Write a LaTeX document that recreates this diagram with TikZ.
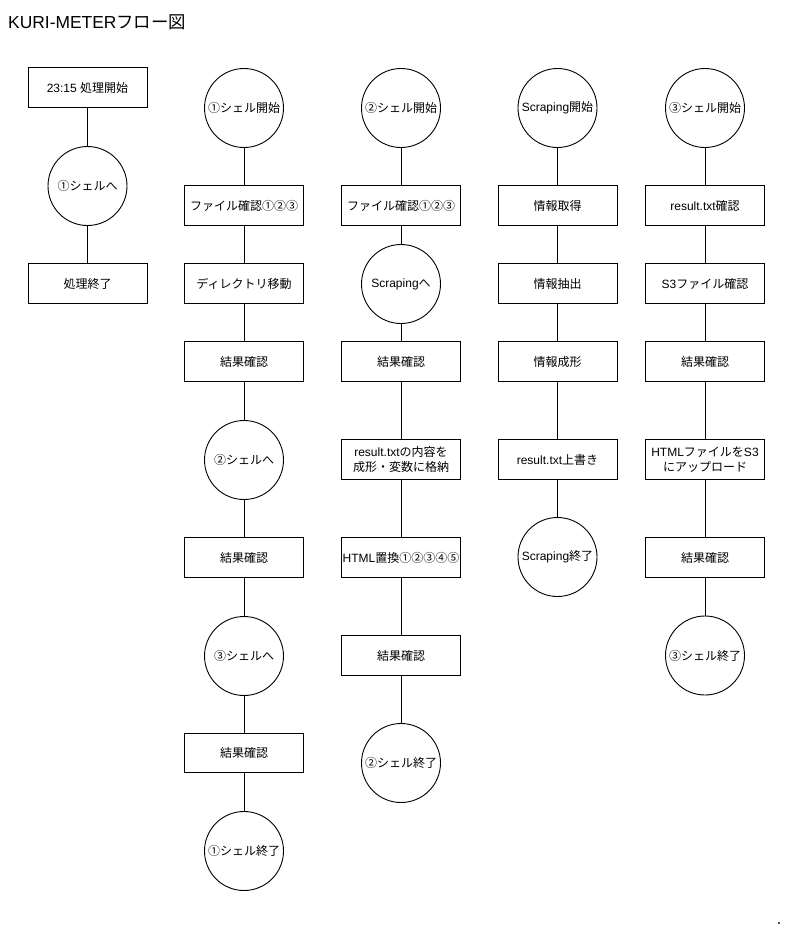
\documentclass[tikz,border=0pt]{standalone}
\usepackage{fontspec}
\setmainfont{Noto Sans CJK JP}
\newfontfamily\latf{Liberation Sans}
\newcommand\latn[1]{{\latf #1}}
\begin{document}
\begin{tikzpicture}[x=1pt,y=-1pt,
  box/.style={draw, fill=white, line width=0.9pt, minimum width=119pt, minimum height=39.5pt, inner sep=0pt, align=center, font=\fontsize{12}{15.5}\selectfont},
  circ/.style={draw, fill=white, circle, line width=0.9pt, minimum size=79pt, inner sep=0pt, align=center, font=\fontsize{12}{15.5}\selectfont},
  link/.style={draw, line width=0.9pt}]
\useasboundingbox (0,0) rectangle (800,930);
\node[anchor=base west, inner sep=0pt, font=\fontsize{17.4}{20}\selectfont] (title) at (8,28) {\latn{KURI-METER}フロー図};
% column 1
\node[box]  (a1) at (87.5,87.5) {\latn{23:15 }処理開始};
\node[circ] (a2) at (87.5,186) {①シェルへ};
\node[box]  (a3) at (87.5,283.5) {処理終了};
% column 2
\node[circ] (b1) at (244,108) {①シェル開始};
\node[box]  (b2) at (244,205.5) {ファイル確認①②③};
\node[box]  (b3) at (244,283.5) {ディレクトリ移動};
\node[box]  (b4) at (244,361.5) {結果確認};
\node[circ] (b5) at (244,460) {②シェルへ};
\node[box]  (b6) at (244,557.5) {結果確認};
\node[circ] (b7) at (244,656) {③シェルへ};
\node[box]  (b8) at (244,753) {結果確認};
\node[circ] (b9) at (244,851) {①シェル終了};
% column 3
\node[circ] (c1) at (401,108) {②シェル開始};
\node[box]  (c2) at (401,205.5) {ファイル確認①②③};
\node[circ] (c3) at (401,284) {\latn{Scraping}へ};
\node[box]  (c4) at (401,361.5) {結果確認};
\node[box]  (c5) at (401,459.5) {\latn{result.txt}の内容を\\成形・変数に格納};
\node[box]  (c6) at (401,557.5) {\latn{HTML}置換①②③④⑤};
\node[box]  (c7) at (401,655.5) {結果確認};
\node[circ] (c8) at (401,763) {②シェル終了};
% column 4
\node[circ] (d1) at (557.5,108) {\latn{Scraping}開始};
\node[box]  (d2) at (557.5,205.5) {情報取得};
\node[box]  (d3) at (557.5,283.5) {情報抽出};
\node[box]  (d4) at (557.5,361.5) {情報成形};
\node[box]  (d5) at (557.5,459.5) {\latn{result.txt}上書き};
\node[circ] (d6) at (557.5,557) {\latn{Scraping}終了};
% column 5
\node[circ] (e1) at (705,108) {③シェル開始};
\node[box]  (e2) at (705,205.5) {\latn{result.txt}確認};
\node[box]  (e3) at (705,283.5) {\latn{S3}ファイル確認};
\node[box]  (e4) at (705,361.5) {結果確認};
\node[box]  (e5) at (705,459.5) {\latn{HTML}ファイルを\latn{S3}\\にアップロード};
\node[box]  (e6) at (705,557.5) {結果確認};
\node[circ] (e7) at (705,655.5) {③シェル終了};
% connectors
\draw[link] (a1) -- (a2);
\draw[link] (a2) -- (a3);
\draw[link] (b1) -- (b2);
\draw[link] (b2) -- (b3);
\draw[link] (b3) -- (b4);
\draw[link] (b4) -- (b5);
\draw[link] (b5) -- (b6);
\draw[link] (b6) -- (b7);
\draw[link] (b7) -- (b8);
\draw[link] (b8) -- (b9);
\draw[link] (c1) -- (c2);
\draw[link] (c2) -- (c3);
\draw[link] (c3) -- (c4);
\draw[link] (c4) -- (c5);
\draw[link] (c5) -- (c6);
\draw[link] (c6) -- (c7);
\draw[link] (c7) -- (c8);
\draw[link] (d1) -- (d2);
\draw[link] (d2) -- (d3);
\draw[link] (d3) -- (d4);
\draw[link] (d4) -- (d5);
\draw[link] (d5) -- (d6);
\draw[link] (e1) -- (e2);
\draw[link] (e2) -- (e3);
\draw[link] (e3) -- (e4);
\draw[link] (e4) -- (e5);
\draw[link] (e5) -- (e6);
\draw[link] (e6) -- (e7);
% tiny mark at bottom right
\fill[black!70] (778,922) rectangle (780,924);
\end{tikzpicture}
\end{document}
